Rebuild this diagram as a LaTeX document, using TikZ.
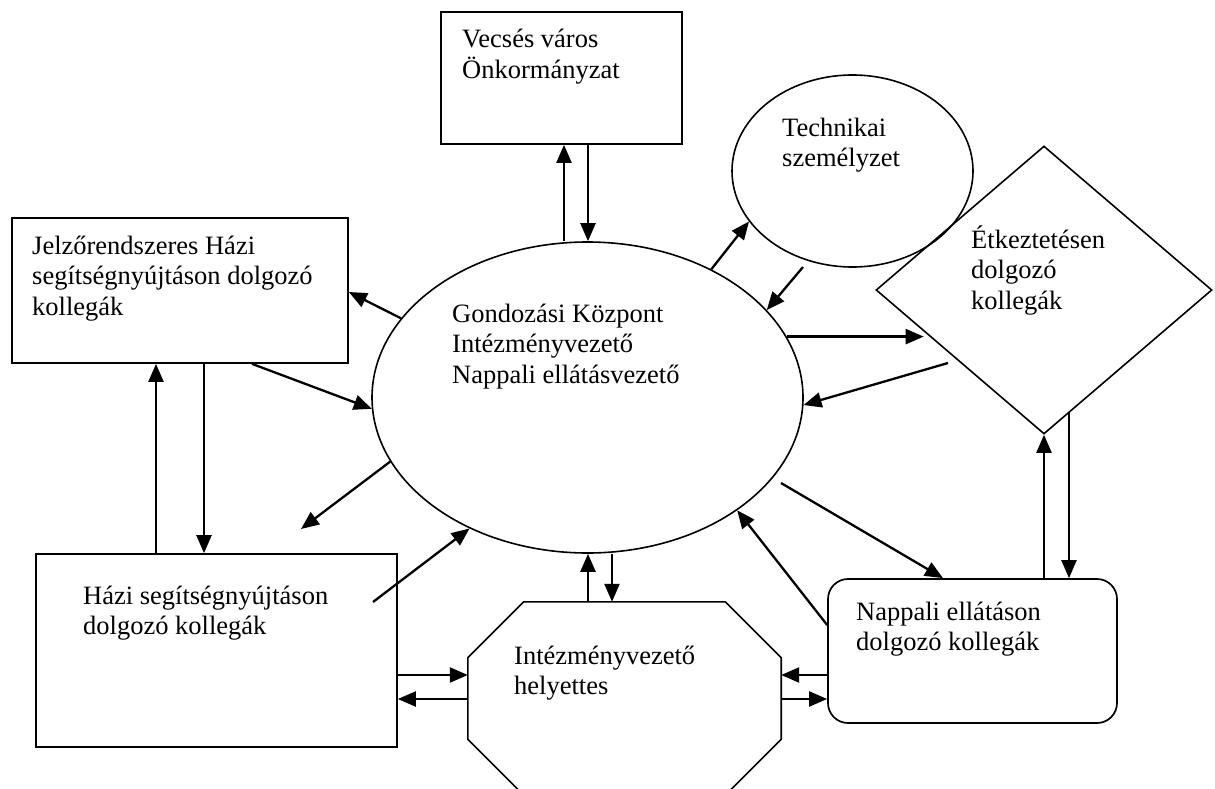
\documentclass[tikz,border=0pt]{standalone}
\usepackage{fontspec}
\setmainfont{Liberation Serif}
\usetikzlibrary{shapes.geometric,arrows.meta,calc}
\begin{document}
\begin{tikzpicture}[x=1pt,y=-1pt,
  box/.style={draw, line width=1.7pt, inner sep=0pt},
  ell/.style={draw, ellipse, line width=1.6pt, inner sep=0pt},
  arr/.style={line width=2.3pt, -{Triangle[length=18pt,width=15pt]}},
  txt/.style={anchor=base west, inner sep=0pt, align=left, font=\fontsize{26.5}{30.5}\selectfont}]
\useasboundingbox (0,0) rectangle (1215,789);

% shapes
\node[box, minimum width=241pt, minimum height=132pt] (vec) at (561.5,78) {};
\node[ell, minimum width=241pt, minimum height=192pt] (tech) at (852.5,171) {};
\node[draw, diamond, line width=1.6pt, inner sep=0pt, minimum width=336pt, minimum height=288pt] (etk) at (1044,290) {};
\node[box, minimum width=336pt, minimum height=145pt] (jel) at (180,290.5) {};
\node[ell, minimum width=431pt, minimum height=311pt] (gk) at (587.5,397.5) {};
\node[box, minimum width=361pt, minimum height=193pt] (hazi) at (216.5,650.5) {};
\node[box, rounded corners=20pt, minimum width=289pt, minimum height=144pt] (nap) at (972.5,651) {};
\node[inner sep=0pt, minimum width=313pt, minimum height=193pt] (oct) at (624.5,698.5) {};
\draw[line width=1.6pt] ($(oct.north west)+(56,0)$) -- ($(oct.north east)+(-56,0)$)
  -- ($(oct.north east)+(0,56)$) -- ($(oct.south east)+(0,-56)$)
  -- ($(oct.south east)+(-56,0)$) -- ($(oct.south west)+(56,0)$)
  -- ($(oct.south west)+(0,-56)$) -- ($(oct.north west)+(0,56)$) -- cycle;

% texts (anchor = baseline of the last line)
\node[txt] (tvec) at (462,78.5) {Vecsés város\\Önkormányzat};
\node[txt] (ttech) at (782,166.5) {Technikai\\személyzet};
\node[txt] (tetk) at (971,309) {Étkeztetésen\\dolgozó\\kollegák};
\node[txt] (tjel) at (32,315) {Jelzőrendszeres Házi\\segítségnyújtáson dolgozó\\kollegák};
\node[txt] (tgk) at (452,383) {Gondozási Központ\\Intézményvezető\\Nappali ellátásvezető};
\node[txt] (thazi) at (83,634.5) {Házi segítségnyújtáson\\dolgozó kollegák};
\node[txt] (toct) at (514,694.5) {Intézményvezető\\helyettes};
\node[txt] (tnap) at (856,650.5) {Nappali ellátáson\\dolgozó kollegák};

% free ends
\coordinate (t1) at (803,267);
\coordinate (d1) at (948,363);
\coordinate (n1) at (781,483);
\coordinate (h1) at (373,602);
\coordinate (f1) at (301,529);

% Vecses
\draw[arr] (564,0 |- gk.north) -- (564,0 |- vec.south);
\draw[arr] (588,0 |- vec.south) -- (588,0 |- gk.north);
% Technikai
\draw[arr] (gk.46) -- (tech.206);
\draw[arr] (t1) -- (gk.26);
% Etkeztetes
\draw[arr] (gk.17) -- ++(137,0);
\draw[arr] (d1) -- (gk.-2);
\draw[arr] (1044,0 |- nap.north) -- (etk.south);
\draw[arr] (1069,412) -- (1069,0 |- nap.north);
% Nappali
\draw[arr] (n1) -- (943,0 |- nap.north);
\draw[arr] (nap.west |- 0,625) -- (gk.-37);
\draw[arr] (nap.west |- 0,675) -- (oct.east |- 0,675);
\draw[arr] (oct.east |- 0,699) -- (nap.west |- 0,699);
% Octagon
\draw[arr] (588,0 |- oct.north) -- (588,0 |- gk.south);
\draw[arr] (612,0 |- gk.south) -- (612,0 |- oct.north);
\draw[arr] (hazi.east |- 0,675) -- (oct.west |- 0,675);
\draw[arr] (oct.west |- 0,699) -- (hazi.east |- 0,699);
% Jelzo
\draw[arr] (gk.157) -- (jel.east |- 0,292);
\draw[arr] (252,0 |- jel.south) -- (gk.183);
\draw[arr] (156,0 |- hazi.north) -- (156,0 |- jel.south);
\draw[arr] (204,0 |- jel.south) -- (204,0 |- hazi.north);
% Hazi
\draw[arr] (gk.198) -- (f1);
\draw[arr] (h1) -- (gk.228);
\end{tikzpicture}
\end{document}
